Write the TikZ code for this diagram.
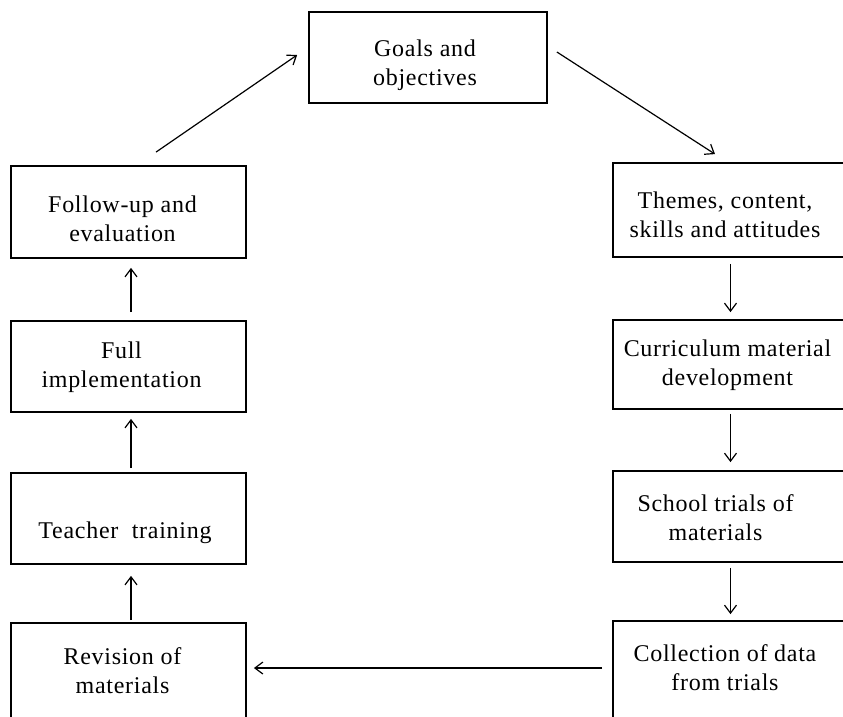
\documentclass[tikz,border=0pt]{standalone}
\usepackage{fontspec}
\setmainfont[LetterSpace=3]{Liberation Serif}
\usetikzlibrary{arrows.meta,calc}
\begin{document}
\begin{tikzpicture}[x=1pt,y=-1pt,
  box/.style={draw,line width=1.8pt,inner sep=0pt,minimum width=235pt},
  txt/.style={inner sep=0pt,align=center,font=\fontsize{24}{29}\selectfont},
  link/.style={line width=1.2pt,-{Straight Barb[length=8pt,width=12pt,line width=1.2pt]}}]
\useasboundingbox (0,0) rectangle (843,716);
\clip (0,0) rectangle (843,716);
% boxes
\node[box,minimum width=238pt,minimum height=91pt] (goals) at (428,57.5) {};
\node[box,minimum height=92pt] (follow) at (128.5,212) {};
\node[box,minimum height=91pt] (full) at (128.5,366.5) {};
\node[box,minimum height=91pt] (teacher) at (128.5,518.5) {};
\node[box,minimum height=100pt] (revision) at (128.5,673) {};
\node[box,minimum height=94pt] (themes) at (730.5,210) {};
\node[box,minimum height=89pt] (curr) at (730.5,364.5) {};
\node[box,minimum height=91pt] (school) at (730.5,516.5) {};
\node[box,minimum height=104pt] (coll) at (730.5,673) {};
% texts
\node[txt] (goalsT) at ($(goals)+(-3,8)$) {Goals and\\objectives};
\node[txt] (followT) at ($(follow)+(-6,7)$) {Follow-up and\\evaluation};
\node[txt] (fullT) at ($(full)+(-7,0.5)$) {Full\\implementation};
\node[txt] (teacherT) at ($(teacher)+(-3.5,14)$) {Teacher\ \ training};
\node[txt] (revisionT) at (122.5,671) {Revision of\\materials};
\node[txt] (themesT) at ($(themes)+(-5.5,4.5)$) {Themes, content,\\skills and attitudes};
\node[txt] (currT) at ($(curr)+(-3,0.5)$) {Curriculum material\\development};
\node[txt] (schoolT) at ($(school)+(-15,1)$) {School trials of\\materials};
\node[txt] (collT) at (725,667.5) {Collection of data\\from trials};
% connectors
\draw[link] ($(follow.north)+(27.5,-13)$) -- ($(goals.west)+(-11,-2.5)$);
\draw[link] ($(goals.east)+(9,-5.5)$) -- ($(themes.north)+(-15.5,-8)$);
\draw[link,shorten <=8pt,shorten >=9pt] ([xshift=2.5pt]full.north) -- ([xshift=2.5pt]follow.south);
\draw[link,shorten <=4pt,shorten >=6pt] ([xshift=2.5pt]teacher.north) -- ([xshift=2.5pt]full.south);
\draw[link,shorten <=2pt,shorten >=11pt] ([xshift=2.5pt]revision.north) -- ([xshift=2.5pt]teacher.south);
\draw[link,shorten <=6pt,shorten >=7pt] (themes.south) -- (curr.north);
\draw[link,shorten <=4pt,shorten >=8pt] (curr.south) -- (school.north);
\draw[link,shorten <=5pt,shorten >=6pt] (school.south) -- (coll.north);
\draw[link,shorten <=10pt,shorten >=7pt] ([yshift=5pt]coll.west) -- ([yshift=5pt]revision.east);
\end{tikzpicture}
\end{document}
